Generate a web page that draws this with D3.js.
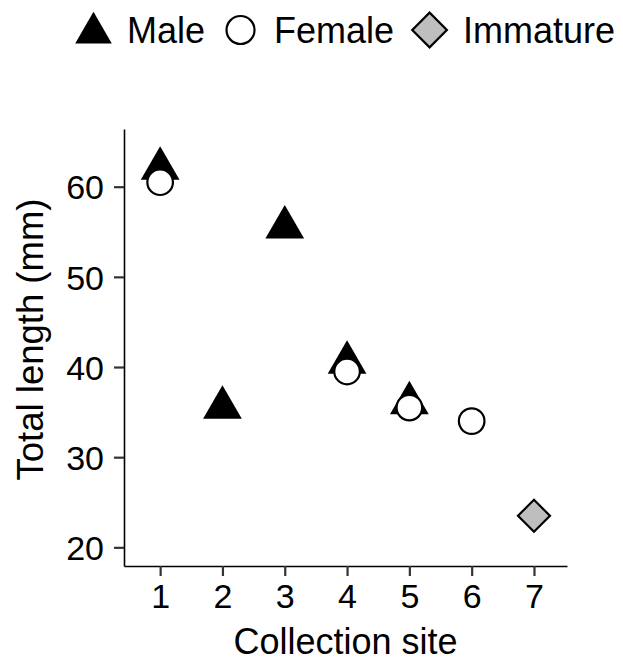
<!DOCTYPE html>
<html>
<head>
<meta charset="utf-8">
<script src="https://cdn.jsdelivr.net/npm/d3@7"></script>
<style>
  html, body { margin: 0; padding: 0; background: #fff; }
  svg { display: block; font-family: "Liberation Sans", Arial, Helvetica, sans-serif; }
</style>
</head>
<body>
<svg id="chart" width="623" height="663"></svg>
<script>
// ---- data ----
const sites = [1, 2, 3, 4, 5, 6, 7];
const maleSite = [1, 2, 3, 4, 5];
const maleLength = [62, 35.5, 55.5, 40.5, 36];
const femaleSite = [1, 4, 5, 6];
const femaleLength = [60.5, 39.5, 35.5, 34];
const immatureSite = [7];
const immatureLength = [23.5];
const yTicks = [20, 30, 40, 50, 60];
const legendLabels = ["Male", "Female", "Immature"];
const xTitle = "Collection site";
const yTitle = "Total length (mm)";

// ---- layout ----
const svg = d3.select("#chart");
const pLeft = 124, pRight = 567, pTop = 129, pBottom = 566;

const x = d3.scaleLinear().domain([0.42, 7.53]).range([pLeft, pRight]);
const y = d3.scaleLinear().domain([17.93, 66.4]).range([pBottom, pTop]);

// axes
const xAxis = d3.axisBottom(x).tickValues(sites).tickFormat(d3.format("d"))
  .tickSize(10).tickSizeOuter(0).tickPadding(8);
const yAxis = d3.axisLeft(y).tickValues(yTicks).tickFormat(d3.format("d"))
  .tickSize(10).tickSizeOuter(0).tickPadding(10);

const gx = svg.append("g").attr("transform", `translate(0,${pBottom})`).call(xAxis);
const gy = svg.append("g").attr("transform", `translate(${pLeft},0)`).call(yAxis);

[gx, gy].forEach(g => {
  g.select(".domain").attr("stroke", "#000").attr("stroke-width", 1.6);
  g.selectAll(".tick line").attr("stroke", "#333").attr("stroke-width", 2.2);
  g.selectAll(".tick text").attr("fill", "#000").style("font-size", "34px")
    .style("font-family", '"Liberation Sans", Arial, sans-serif');
});
gx.selectAll(".tick text").attr("dy", "0.71em");
gy.selectAll(".tick text").attr("dy", "0.36em");

// axis titles
svg.append("text").attr("x", (pLeft + pRight) / 2).attr("y", 654)
  .attr("text-anchor", "middle").style("font-size", "36px").attr("fill", "#000")
  .text(xTitle);
svg.append("text").attr("transform", `translate(43,${(pTop + pBottom) / 2 - 8}) rotate(-90)`)
  .attr("text-anchor", "middle").style("font-size", "36.5px").attr("fill", "#000")
  .text(yTitle);

// ---- points ----
const tri = d3.symbol().type(d3.symbolTriangle).size(650);
const circ = 12.8;
const diam = d3.symbol().type(d3.symbolSquare).size(512);

svg.append("g").selectAll("path").data(maleSite).join("path")
  .attr("d", tri)
  .attr("transform", (d, i) => `translate(${x(d)},${y(maleLength[i])})`)
  .attr("fill", "#000");

svg.append("g").selectAll("circle").data(femaleSite).join("circle")
  .attr("cx", d => x(d)).attr("cy", (d, i) => y(femaleLength[i])).attr("r", circ)
  .attr("fill", "#fff").attr("stroke", "#000").attr("stroke-width", 2.2);

svg.append("g").selectAll("path").data(immatureSite).join("path")
  .attr("d", diam)
  .attr("transform", (d, i) => `translate(${x(d)},${y(immatureLength[i])}) rotate(45)`)
  .attr("fill", "#bebebe").attr("stroke", "#000").attr("stroke-width", 2.2);

// ---- legend ----
const lg = svg.append("g");
const keyW = 37, gapKT = 15, gapTK = 17, legY = 30;
let kx = 75;
const keyDraw = [
  (g, c) => g.append("path").attr("d", d3.symbol().type(d3.symbolTriangle).size(580))
    .attr("transform", `translate(${c},${legY + 3})`).attr("fill", "#000"),
  (g, c) => g.append("circle").attr("cx", c).attr("cy", legY).attr("r", 14)
    .attr("fill", "#fff").attr("stroke", "#000").attr("stroke-width", 2.2),
  (g, c) => g.append("path").attr("d", d3.symbol().type(d3.symbolSquare).size(600))
    .attr("transform", `translate(${c},${legY}) rotate(45)`)
    .attr("fill", "#bebebe").attr("stroke", "#000").attr("stroke-width", 2.2)
];
legendLabels.forEach((lab, i) => {
  keyDraw[i](lg, kx + keyW / 2);
  const t = lg.append("text").attr("x", kx + keyW + gapKT).attr("y", legY)
    .attr("dy", "0.36em").style("font-size", "36px").attr("fill", "#000").text(lab);
  const w = t.node().getComputedTextLength();
  kx = kx + keyW + gapKT + w + gapTK;
});
</script>
</body>
</html>
